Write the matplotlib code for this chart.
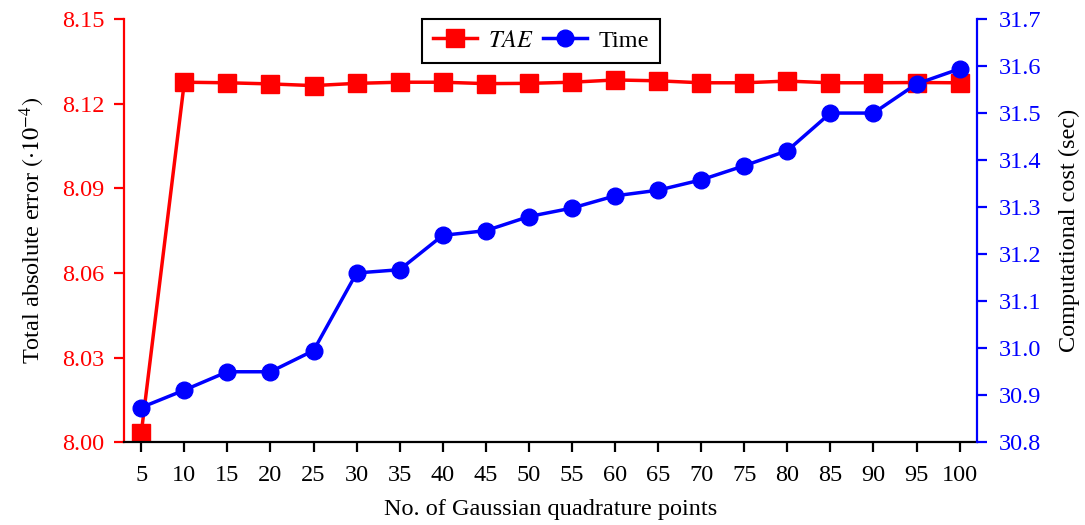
import numpy as np
import matplotlib
matplotlib.use("Agg")
import matplotlib.pyplot as plt

plt.rcParams['font.family'] = ['Liberation Serif', 'DejaVu Serif']
plt.rcParams['mathtext.fontset'] = 'stix'

points = [5, 10, 15, 20, 25, 30, 35, 40, 45, 50, 55, 60, 65, 70, 75, 80, 85, 90, 95, 100]
tae = [8.0032, 8.1276, 8.1274, 8.1270, 8.1264, 8.1272, 8.1276, 8.1276, 8.1271, 8.1272,
       8.1276, 8.1284, 8.1281, 8.1274, 8.1274, 8.1280, 8.1274, 8.1274, 8.1275, 8.1274]
time_cost = [30.874, 30.911, 30.950, 30.950, 30.995, 31.160, 31.167, 31.240, 31.250, 31.280,
             31.298, 31.324, 31.336, 31.358, 31.388, 31.420, 31.500, 31.500, 31.562, 31.594]

fs = 17.5

fig = plt.figure(figsize=(10.85, 5.25), dpi=100)
ax = fig.add_axes([0.1143, 0.1575, 0.786, 0.8063])
ax2 = ax.twinx()

l1, = ax.plot(points, tae, color='red', marker='s', markersize=12.5, linewidth=2.5, label=r'$TAE$')
l2, = ax2.plot(points, time_cost, color='blue', marker='o', markersize=12, linewidth=2.5, label='Time')

ax.set_xlim(3, 102)
ax.set_ylim(8.00, 8.15)
ax.set_yticks(np.arange(8.00, 8.151, 0.03))
ax.set_yticklabels(['%.2f' % v for v in np.arange(8.00, 8.151, 0.03)])
ax2.set_ylim(30.8, 31.7)
ax2.set_yticks(np.arange(30.8, 31.71, 0.1))
ax2.set_yticklabels(['%.1f' % v for v in np.arange(30.8, 31.71, 0.1)])
ax.set_xticks(points)

for a in (ax, ax2):
    a.spines['top'].set_visible(False)
    for s in a.spines.values():
        s.set_linewidth(1.6)
ax.spines['left'].set_color('red')
ax.spines['right'].set_visible(False)
ax2.spines['left'].set_visible(False)
ax2.spines['bottom'].set_visible(False)
ax2.spines['right'].set_color('blue')

ax.tick_params(axis='y', colors='red', labelsize=fs, length=7, width=1.6, pad=7)
ax.tick_params(axis='x', colors='black', labelsize=fs, length=7, width=1.6, pad=9)
ax2.tick_params(axis='y', colors='blue', labelsize=fs, length=7, width=1.6, pad=9)

ax.set_xlabel('No. of Gaussian quadrature points', fontsize=fs, labelpad=10)
ax.set_ylabel(r'Total absolute error $\left(\cdot 10^{-4}\right)$', fontsize=fs, labelpad=11)
ax2.set_ylabel('Computational cost (sec)', fontsize=fs, labelpad=12)

leg = ax2.legend(handles=[l1, l2], loc='upper center', bbox_to_anchor=(0.489, 1.0), ncol=2,
                 fontsize=fs, fancybox=False, framealpha=1, edgecolor='black',
                 handlelength=1.8, columnspacing=0.4, handletextpad=0.45, borderpad=0.45,
                 borderaxespad=0)
leg.get_frame().set_linewidth(1.5)

fig.savefig('out.png', dpi=100)
